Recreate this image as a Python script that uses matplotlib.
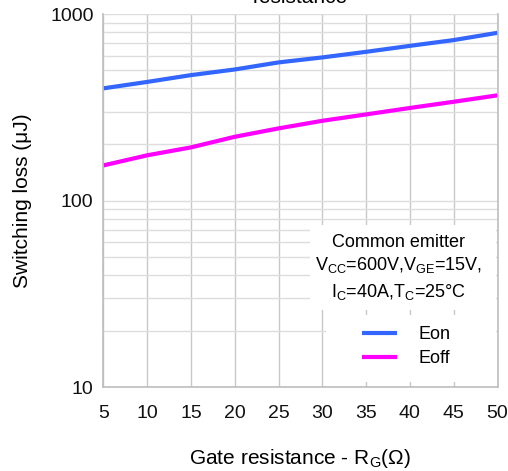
import matplotlib
matplotlib.use("Agg")
import matplotlib.pyplot as plt
from matplotlib.patches import Rectangle
from matplotlib.ticker import FixedLocator, NullFormatter

plt.rcParams['font.family'] = ['Liberation Sans', 'DejaVu Sans']
plt.rcParams['mathtext.fontset'] = 'custom'
plt.rcParams['mathtext.rm'] = 'Liberation Sans'

rg = [5, 10, 15, 20, 25, 30, 35, 40, 45, 50]
eon = [400, 433, 471, 505, 551, 586, 628, 676, 726, 794]
eoff = [154.5, 175, 193, 220, 244, 268, 290, 314, 339, 367]
xticks = [5, 10, 15, 20, 25, 30, 35, 40, 45, 50]
yticks = [10, 100, 1000]

fig = plt.figure(figsize=(5.08, 4.71), dpi=100)
ax = fig.add_axes([0.2034, 0.178, 0.776, 0.792])

ax.plot(rg, eon, color='#3366ff', lw=3.0, label='Eon', zorder=2.2, solid_capstyle='butt')
ax.plot(rg, eoff, color='#ff00ff', lw=3.0, label='Eoff', zorder=2.2, solid_capstyle='butt')

ax.set_yscale('log')
ax.set_xlim(5, 50)
ax.set_ylim(10, 1000)
ax.set_xticks(xticks)
ax.set_xticklabels([str(v) for v in xticks])
ax.set_yticks(yticks)
ax.set_yticklabels([str(v) for v in yticks])
minors = [m * d for d in (10, 100) for m in range(2, 10)]
ax.yaxis.set_minor_locator(FixedLocator(minors))
ax.yaxis.set_minor_formatter(NullFormatter())

ax.grid(True, axis='x', which='major', color='#c8c8c8', lw=1.0, zorder=1)
ax.grid(True, axis='y', which='both', color='#dddddd', lw=1.0, zorder=1)
ax.set_axisbelow(True)

ax.tick_params(axis='both', which='both', length=0, labelsize=14, colors='#111111')
ax.tick_params(axis='x', pad=13)
ax.tick_params(axis='y', pad=7)

for s in ('left', 'bottom', 'right'):
    ax.spines[s].set_color('#bdbdbd')
    ax.spines[s].set_linewidth(1.2)
ax.spines['top'].set_visible(False)

ax.set_xlabel(r'Gate resistance - R$\mathregular{_G}$(Ω)', fontsize=15)
ax.xaxis.set_label_coords(0.5, -0.19)
ax.xaxis.label.set_va('center')
ax.set_ylabel('Switching loss (μJ)', fontsize=15)
ax.yaxis.set_label_coords(-0.206, 0.5)
ax.yaxis.label.set_va('center')

# annotation box
ax.add_patch(Rectangle((0.525, 0.206), 0.47, 0.228, transform=ax.transAxes,
                       facecolor='white', edgecolor='none', zorder=3))
ax.text(0.75, 0.389, 'Common emitter', transform=ax.transAxes, ha='center',
        va='center', fontsize=13, zorder=4)
ax.text(0.75, 0.327, r'V$\mathregular{_{CC}}$=600V,V$\mathregular{_{GE}}$=15V,',
        transform=ax.transAxes, ha='center', va='center', fontsize=13, zorder=4)
ax.text(0.75, 0.255, r'I$\mathregular{_C}$=40A,T$\mathregular{_C}$=25°C',
        transform=ax.transAxes, ha='center', va='center', fontsize=13, zorder=4)

# legend box
ax.add_patch(Rectangle((0.565, 0.013), 0.43, 0.18, transform=ax.transAxes,
                       facecolor='white', edgecolor='none', zorder=3))
leg = ax.legend(loc='center left', bbox_to_anchor=(0.656, 0.1086), borderaxespad=0,
                fontsize=13, frameon=False, handlelength=1.94,
                handletextpad=1.22, borderpad=0, labelspacing=0.4)
leg.set_zorder(5)

fig.text(0.5 * (0.2034 + 0.9794), 0.993, 'resistance', ha='center', va='baseline',
         fontsize=15)

fig.savefig('out.png', dpi=100)
